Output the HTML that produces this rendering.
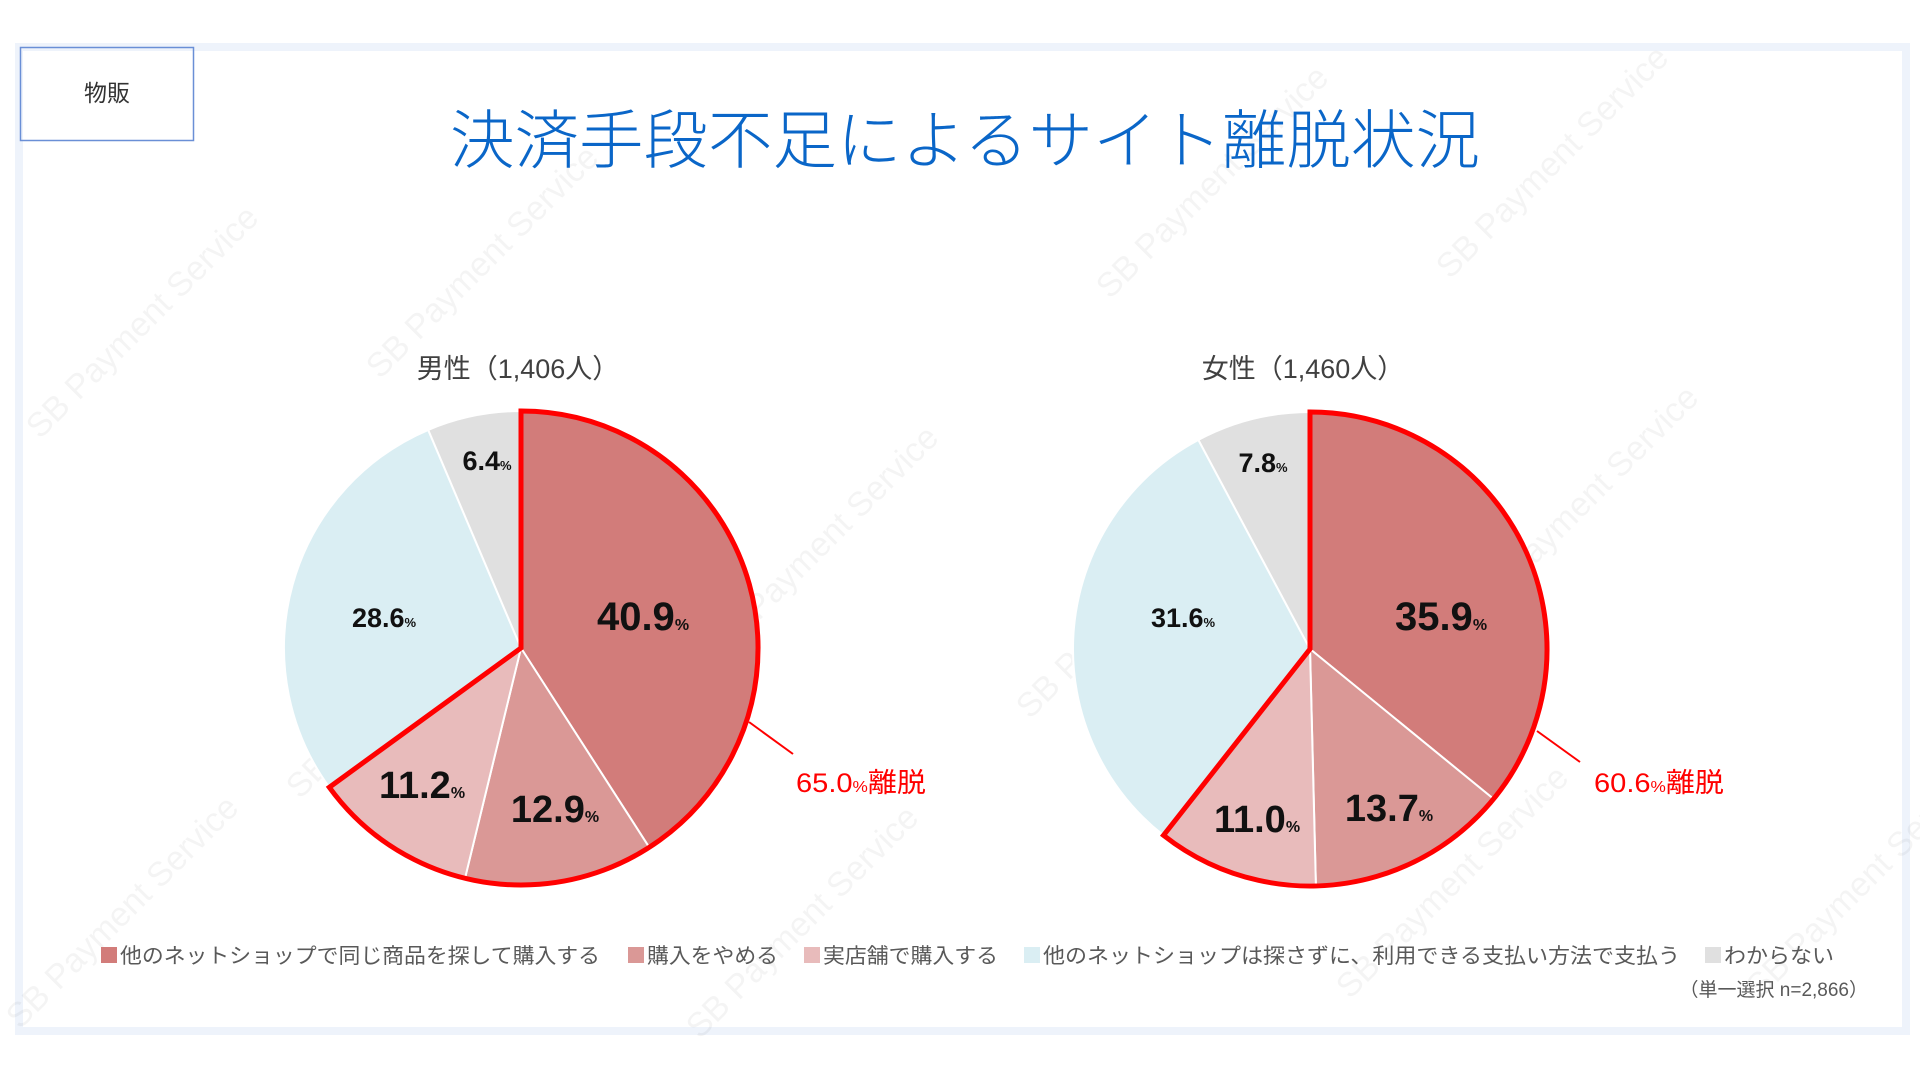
<!DOCTYPE html>
<html><head><meta charset="utf-8"><style>
html,body{margin:0;padding:0;background:#fff;width:1920px;height:1080px;overflow:hidden}
svg text{font-family:"Liberation Sans","Noto Sans CJK JP",sans-serif}
</style></head><body>
<svg width="1920" height="1080" viewBox="0 0 1920 1080" xmlns="http://www.w3.org/2000/svg">
<rect x="0" y="0" width="1920" height="1080" fill="#fff"/>
<rect x="19" y="47" width="1887" height="984" fill="none" stroke="#eef3fb" stroke-width="8"/>
<g fill="#000" fill-opacity="0.045" font-size="34">
<text transform="translate(40,440) rotate(-45)">SB Payment Service</text>
<text transform="translate(380,380) rotate(-45)">SB Payment Service</text>
<text transform="translate(720,660) rotate(-45)">SB Payment Service</text>
<text transform="translate(1110,300) rotate(-45)">SB Payment Service</text>
<text transform="translate(1450,280) rotate(-45)">SB Payment Service</text>
<text transform="translate(300,800) rotate(-45)">SB Payment Service</text>
<text transform="translate(1030,720) rotate(-45)">SB Payment Service</text>
<text transform="translate(1480,620) rotate(-45)">SB Payment Service</text>
<text transform="translate(1760,1000) rotate(-45)">SB Payment Service</text>
<text transform="translate(1350,1000) rotate(-45)">SB Payment Service</text>
<text transform="translate(20,1030) rotate(-45)">SB Payment Service</text>
<text transform="translate(700,1040) rotate(-45)">SB Payment Service</text>
</g>
<rect x="20.5" y="47.5" width="173" height="93" fill="none" stroke="#6a8fd6" stroke-width="1.5"/>
<text x="107" y="101" font-size="23" text-anchor="middle" fill="#333">物販</text>
<text x="965" y="163" font-size="64" font-weight="300" text-anchor="middle" fill="#0a66c8" textLength="1030" lengthAdjust="spacingAndGlyphs">決済手段不足によるサイト離脱状況</text>

<text x="518" y="378" font-size="27" text-anchor="middle" fill="#404040">男性（1,406人）</text>
<text x="1303" y="378" font-size="27" text-anchor="middle" fill="#404040">女性（1,460人）</text>

<g stroke="#fff" stroke-width="2">
<path d="M521,648 L521,411 A237,237 0 0 1 649.2,847.3 Z" fill="#d27c7a"/>
<path d="M521,648 L649.2,847.3 A237,237 0 0 1 465,878.3 Z" fill="#da9896"/>
<path d="M521,648 L465,878.3 A237,237 0 0 1 329.3,787.3 Z" fill="#e8bbbb"/>
<path d="M521,648 L329.3,787.3 A237,237 0 0 1 428.2,429.9 Z" fill="#daeef3"/>
<path d="M521,648 L428.2,429.9 A237,237 0 0 1 521,411 Z" fill="#e0e0e0"/>
</g>
<path d="M521,648 L521,411 A237,237 0 1 1 329.3,787.3 Z" fill="none" stroke="#ff0000" stroke-width="5"/>
<line x1="749" y1="722" x2="793" y2="754" stroke="#ff0000" stroke-width="2"/>
<text x="796" y="792" font-size="27" fill="#ff0000" textLength="130" lengthAdjust="spacingAndGlyphs">65.0<tspan font-size="16">%</tspan>離脱</text>

<g stroke="#fff" stroke-width="2">
<path d="M1310,649 L1310,412 A237,237 0 0 1 1493.5,798.9 Z" fill="#d27c7a"/>
<path d="M1310,649 L1493.5,798.9 A237,237 0 0 1 1315.9,885.9 Z" fill="#da9896"/>
<path d="M1310,649 L1315.9,885.9 A237,237 0 0 1 1163.5,835.3 Z" fill="#e8bbbb"/>
<path d="M1310,649 L1163.5,835.3 A237,237 0 0 1 1198.4,439.9 Z" fill="#daeef3"/>
<path d="M1310,649 L1198.4,439.9 A237,237 0 0 1 1310,412 Z" fill="#e0e0e0"/>
</g>
<path d="M1310,649 L1310,412 A237,237 0 1 1 1163.5,835.3 Z" fill="none" stroke="#ff0000" stroke-width="5"/>
<line x1="1537" y1="731" x2="1580" y2="762" stroke="#ff0000" stroke-width="2"/>
<text x="1594" y="792" font-size="27" fill="#ff0000" textLength="130" lengthAdjust="spacingAndGlyphs">60.6<tspan font-size="16">%</tspan>離脱</text>

<g font-weight="bold" fill="#111" text-anchor="middle">
<text x="643" y="630" font-size="40">40.9<tspan font-size="16">%</tspan></text>
<text x="555" y="822" font-size="38">12.9<tspan font-size="16">%</tspan></text>
<text x="422" y="798" font-size="38">11.2<tspan font-size="16">%</tspan></text>
<text x="384" y="627" font-size="27">28.6<tspan font-size="13">%</tspan></text>
<text x="487" y="470" font-size="27">6.4<tspan font-size="13">%</tspan></text>
<text x="1441" y="630" font-size="40">35.9<tspan font-size="16">%</tspan></text>
<text x="1389" y="821" font-size="38">13.7<tspan font-size="16">%</tspan></text>
<text x="1257" y="832" font-size="38">11.0<tspan font-size="16">%</tspan></text>
<text x="1183" y="627" font-size="27">31.6<tspan font-size="13">%</tspan></text>
<text x="1263" y="472" font-size="27">7.8<tspan font-size="13">%</tspan></text>
</g>

<g font-size="21" fill="#595959">
<rect x="101" y="947" width="16" height="16" fill="#d27c7a"/>
<text x="120" y="963" textLength="480" lengthAdjust="spacingAndGlyphs">他のネットショップで同じ商品を探して購入する</text>
<rect x="628" y="947" width="16" height="16" fill="#da9896"/>
<text x="647" y="963" textLength="131" lengthAdjust="spacingAndGlyphs">購入をやめる</text>
<rect x="804" y="947" width="16" height="16" fill="#e8bbbb"/>
<text x="823" y="963" textLength="175" lengthAdjust="spacingAndGlyphs">実店舗で購入する</text>
<rect x="1024" y="947" width="16" height="16" fill="#daeef3"/>
<text x="1043" y="963" textLength="637" lengthAdjust="spacingAndGlyphs">他のネットショップは探さずに、利用できる支払い方法で支払う</text>
<rect x="1705" y="947" width="16" height="16" fill="#e0e0e0"/>
<text x="1724" y="963" textLength="110" lengthAdjust="spacingAndGlyphs">わからない</text>
<text x="1868" y="996" font-size="19" text-anchor="end">（単一選択 n=2,866）</text>
</g>
</svg>
</body></html>
